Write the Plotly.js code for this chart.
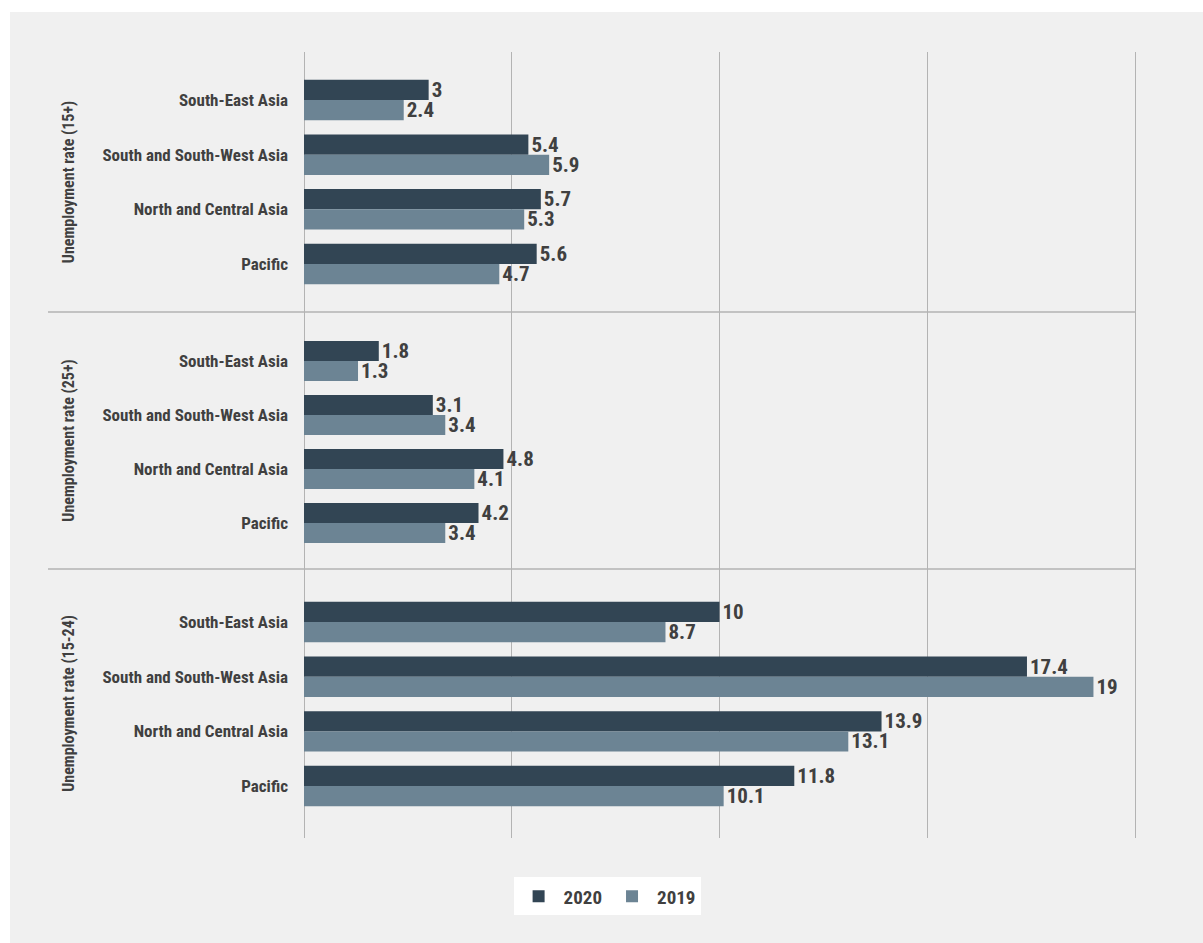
<!DOCTYPE html>
<html>
<head>
<meta charset="utf-8">
<script src="https://cdn.plot.ly/plotly-3.0.1.min.js"></script>
<style>
html,body{margin:0;padding:0;background:#ffffff;}
#wrap{position:relative;width:1203px;height:943px;background:#ffffff;overflow:hidden;}
#chart{position:absolute;left:10px;top:12px;width:1193px;height:931px;}
</style>
</head>
<body>
<div id="wrap"><div id="chart"></div></div>
<script>
const regions = ["South-East Asia", "South and South-West Asia", "North and Central Asia", "Pacific"];
const groupTitles = ["Unemployment rate (15+)", "Unemployment rate (25+)", "Unemployment rate (15-24)"];
const seriesNames = ["2020", "2019"];
const rate15plus_2020 = [3, 5.4, 5.7, 5.6];
const rate15plus_2019 = [2.4, 5.9, 5.3, 4.7];
const rate25plus_2020 = [1.8, 3.1, 4.8, 4.2];
const rate25plus_2019 = [1.3, 3.4, 4.1, 3.4];
const rate1524_2020 = [10, 17.4, 13.9, 11.8];
const rate1524_2019 = [8.7, 19, 13.1, 10.1];

const colors = {"2020": "#324554", "2019": "#6c8494"};
const font = "Roboto Condensed, Roboto, Arial, sans-serif";
const labelColor = "#404040";

const groups = [
  {axis: "y",  vals: [rate15plus_2020, rate15plus_2019]},
  {axis: "y2", vals: [rate25plus_2020, rate25plus_2019]},
  {axis: "y3", vals: [rate1524_2020, rate1524_2019]}
];

const traces = [];
groups.forEach((g, gi) => {
  seriesNames.forEach((s, si) => {
    traces.push({
      type: "bar",
      orientation: "h",
      name: s,
      x: g.vals[si],
      y: regions,
      xaxis: "x",
      yaxis: g.axis,
      marker: {color: colors[s]},
      text: g.vals[si].map(v => String(v)),
      textposition: "outside",
      constraintext: "none",
      cliponaxis: false,
      textfont: {family: font, size: 21, color: labelColor, weight: 700},
      showlegend: gi === 0,
      legendgroup: s,
      hoverinfo: "x+y"
    });
  });
});

const W = 1193, H = 931;
const mL = 294, mR = 64, mT = 40, mB = H - 826;
const plotH = H - mT - mB;
const sep1 = (826 - 300) / plotH;
const sep2 = (826 - 557) / plotH;
const plotW = W - mL - mR;
const sepX0 = (38 - mL) / plotW;
const sepX1 = (1125 - mL) / plotW;
const xMax = 20 * plotW / 831;

function yax(domain, range, title) {
  return {
    domain: domain,
    anchor: "x",
    type: "category",
    range: range,
    showgrid: false,
    zeroline: false,
    showline: false,
    ticks: "",
    ticklabelstandoff: 15,
    tickfont: {family: font, size: 17, color: labelColor, weight: 700},
    title: {text: title, font: {family: font, size: 16, color: labelColor, weight: 700}, standoff: 23},
    fixedrange: true
  };
}

const layout = {
  width: W,
  height: H,
  paper_bgcolor: "#f0f0f0",
  plot_bgcolor: "rgba(0,0,0,0)",
  margin: {l: mL, r: mR, t: mT, b: mB, pad: 0},
  barmode: "group",
  bargap: 0.26,
  bargroupgap: 0,
  showlegend: true,
  legend: {
    orientation: "h",
    x: 0.363, xanchor: "center",
    y: -0.05, yanchor: "top",
    bgcolor: "#ffffff",
    borderwidth: 0,
    font: {family: font, size: 19, color: labelColor, weight: 700},
    traceorder: "normal",
    itemwidth: 40
  },
  xaxis: {
    anchor: "y3",
    range: [0, xMax],
    dtick: 5,
    tick0: 0,
    showgrid: true,
    gridcolor: "#b3b3b3",
    gridwidth: 1,
    zeroline: true,
    zerolinecolor: "#b3b3b3",
    zerolinewidth: 1,
    showticklabels: false,
    ticks: "",
    showline: false,
    fixedrange: true
  },
  yaxis: yax([sep1, 1], [3.88, -0.88], groupTitles[0]),
  yaxis2: yax([sep2, sep1], [3.85, -0.907], groupTitles[1]),
  yaxis3: yax([0, sep2], [3.95, -0.97], groupTitles[2]),
  shapes: [
    {type: "line", xref: "paper", yref: "paper", x0: sepX0, x1: sepX1, y0: sep1, y1: sep1, line: {color: "#b3b3b3", width: 1.5}},
    {type: "line", xref: "paper", yref: "paper", x0: sepX0, x1: sepX1, y0: sep2, y1: sep2, line: {color: "#b3b3b3", width: 1.5}}
  ]
};

Plotly.newPlot("chart", traces, layout, {displayModeBar: false, staticPlot: true});
</script>
</body>
</html>
